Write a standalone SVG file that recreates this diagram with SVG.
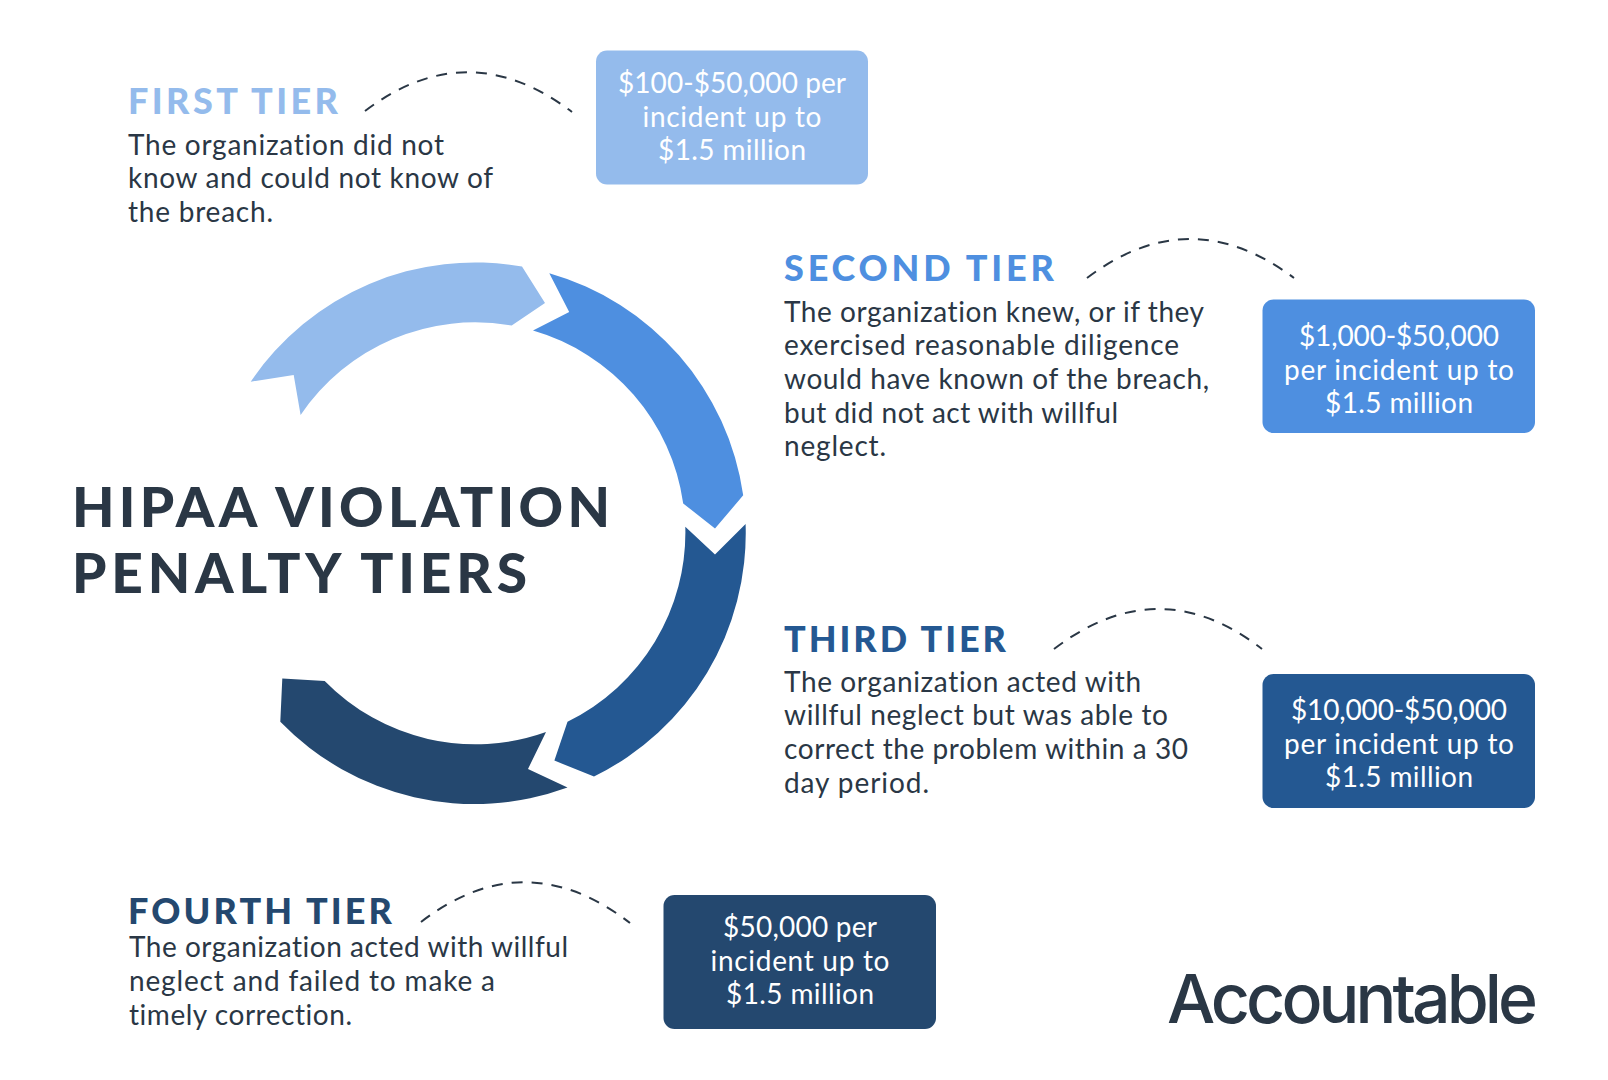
<svg xmlns="http://www.w3.org/2000/svg" width="1608" height="1080" viewBox="0 0 1608 1080">
<style>
text{font-family:"Lato","Noto Sans",sans-serif;font-variant-ligatures:none}
.h{font-size:36px;font-weight:900}
.b{font-size:28px;fill:#2a3745}
.p{font-size:28px;fill:#fff;text-anchor:middle}
.t{font-size:55px;font-weight:900;fill:#2a3745}
.d{fill:none;stroke:#2a3745;stroke-width:2;stroke-dasharray:11 9}
</style>
<rect width="1608" height="1080" fill="#fff"/>
<g id="cycle">
<path id="arrow-first" fill="#94bbec" d="M250.7 381.7L293.7 375L300.6 415A210.5 210.5 0 0 1 511.7 325.5L545 303L522 266.6A270.5 270.5 0 0 0 250.7 381.7Z"/>
<path id="arrow-second" fill="#4e8fe0" d="M549.3 273.3L569.2 312L533 330.6A210.5 210.5 0 0 1 683.2 503.4L715 528.6L743.2 495.3A270.5 270.5 0 0 0 549.3 273.3Z"/>
<path id="arrow-third" fill="#245892" d="M685.3 526.8L715 554.5L745.6 524A271 271 0 0 1 594 776.5L554.4 760.6L567.5 721.7A210.5 210.5 0 0 0 685.3 526.8Z"/>
<path id="arrow-fourth" fill="#24486f" d="M567.5 787.6L528 769L546 732A210.5 210.5 0 0 1 324.7 681L282.3 678.5L280.3 721.7A270.5 270.5 0 0 0 567.5 787.6Z"/>
</g>
<g id="title">
<text class="t" x="72" y="527" textLength="538">HIPAA VIOLATION</text>
<text class="t" x="72" y="592.5" textLength="455">PENALTY TIERS</text>
</g>
<g id="connectors">
<path class="d" d="M365 111Q468 33 572 112"/>
<path class="d" d="M1087 278Q1190 200 1294 278"/>
<path class="d" d="M1054 649Q1159 569 1262 649"/>
<path class="d" d="M421 922Q525 842 630 923"/>
</g>
<g id="tier-first">
<text class="h" fill="#94bbec" x="128" y="114" textLength="210">FIRST TIER</text>
<text class="b" x="128" y="155" textLength="316">The organization did not</text>
<text class="b" x="128" y="188" textLength="365">know and could not know of</text>
<text class="b" x="128" y="222" textLength="145">the breach.</text>
</g>
<g id="price-first">
<rect x="596" y="50.5" width="272" height="134" rx="11" fill="#94bbec"/>
<text class="p" x="732" y="92.500" textLength="228">$100-$50,000 per</text>
<text class="p" x="732" y="126.500" textLength="179">incident up to</text>
<text class="p" x="732" y="159.500" textLength="148">$1.5 million</text>
</g>
<g id="tier-second">
<text class="h" fill="#4e8fe0" x="784" y="281" textLength="270">SECOND TIER</text>
<text class="b" x="784" y="322" textLength="420">The organization knew, or if they</text>
<text class="b" x="784" y="355" textLength="395">exercised reasonable diligence</text>
<text class="b" x="784" y="389" textLength="425">would have known of the breach,</text>
<text class="b" x="784" y="423" textLength="334">but did not act with willful</text>
<text class="b" x="784" y="456" textLength="102">neglect.</text>
</g>
<g id="price-second">
<rect x="1262.5" y="299.5" width="272.5" height="133.5" rx="11" fill="#4e8fe0"/>
<text class="p" x="1399" y="345.500" textLength="200">$1,000-$50,000</text>
<text class="p" x="1399" y="379.500" textLength="230">per incident up to</text>
<text class="p" x="1399" y="412.500" textLength="148">$1.5 million</text>
</g>
<g id="tier-third">
<text class="h" fill="#245892" x="784" y="652" textLength="222">THIRD TIER</text>
<text class="b" x="784" y="692" textLength="357">The organization acted with</text>
<text class="b" x="784" y="725" textLength="384">willful neglect but was able to</text>
<text class="b" x="784" y="759" textLength="404">correct the problem within a 30</text>
<text class="b" x="784" y="793" textLength="145">day period.</text>
</g>
<g id="price-third">
<rect x="1262.5" y="674" width="272.5" height="134" rx="11" fill="#245892"/>
<text class="p" x="1399" y="720" textLength="216">$10,000-$50,000</text>
<text class="p" x="1399" y="754" textLength="230">per incident up to</text>
<text class="p" x="1399" y="787" textLength="148">$1.5 million</text>
</g>
<g id="tier-fourth">
<text class="h" fill="#24486f" x="128" y="924" textLength="264">FOURTH TIER</text>
<text class="b" x="129" y="957" textLength="439">The organization acted with willful</text>
<text class="b" x="129" y="991" textLength="366">neglect and failed to make a</text>
<text class="b" x="129" y="1025" textLength="223">timely correction.</text>
</g>
<g id="price-fourth">
<rect x="663.5" y="895" width="272.5" height="134" rx="11" fill="#24486f"/>
<text class="p" x="800" y="937" textLength="154">$50,000 per</text>
<text class="p" x="800" y="971" textLength="179">incident up to</text>
<text class="p" x="800" y="1004" textLength="148">$1.5 million</text>
</g>
<g id="logo">
<text x="1167" y="1023" font-size="68" font-weight="500" style="font-family:Inter,sans-serif" fill="#2a3745" textLength="371">Accountable</text>
</g>
</svg>
